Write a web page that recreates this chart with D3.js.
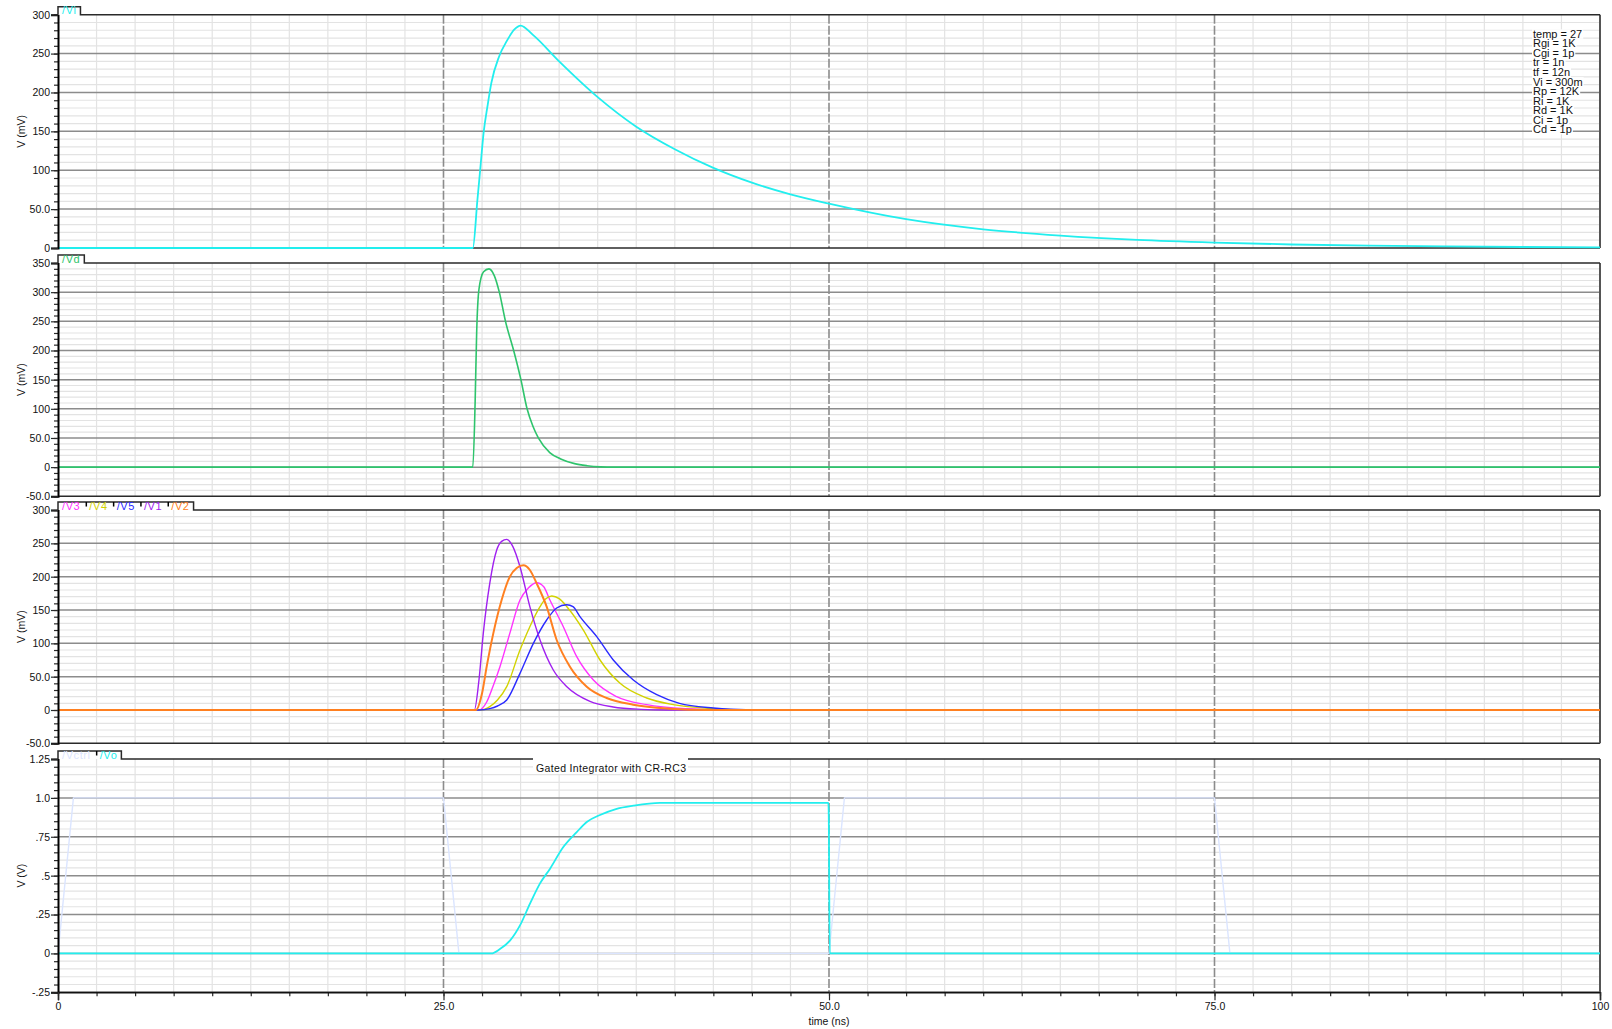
<!DOCTYPE html>
<html><head><meta charset="utf-8">
<script src="https://cdn.jsdelivr.net/npm/d3@7"></script>
<style>
body{margin:0;background:#fff}
svg{display:block}
text{font-family:"Liberation Sans",Arial,sans-serif}
</style>
</head><body>
<svg id="chart" width="1612" height="1029"></svg>
<script>
// ---------- data ----------
const timeTicks = [0, 25, 50, 75, 100];
const timeTickLabels = ["0", "25.0", "50.0", "75.0", "100"];

const p1Ticks = [0, 50, 100, 150, 200, 250, 300];
const p1TickLabels = ["0", "50.0", "100", "150", "200", "250", "300"];
const p2Ticks = [-50, 0, 50, 100, 150, 200, 250, 300, 350];
const p2TickLabels = ["-50.0", "0", "50.0", "100", "150", "200", "250", "300", "350"];
const p3Ticks = [-50, 0, 50, 100, 150, 200, 250, 300];
const p3TickLabels = ["-50.0", "0", "50.0", "100", "150", "200", "250", "300"];
const p4Ticks = [-0.25, 0, 0.25, 0.5, 0.75, 1.0, 1.25];
const p4TickLabels = ["-.25", "0", ".25", ".5", ".75", "1.0", "1.25"];

// Panel 1: /Vi (mV)
const viTime = [0, 26.9, 27.2, 27.4, 27.6, 27.85, 28.1, 28.6, 29.1, 29.6, 30, 30.8, 32.5, 35, 37.5, 40, 42.5, 45, 47.5, 50, 55, 60, 65, 70, 75, 80, 85, 90, 95, 100];
const viValues = [0, 0, 62, 105, 148, 182, 212, 246, 266, 281, 286, 274, 240, 194, 156, 127, 103, 84, 69, 57, 37, 24, 16, 10.5, 7, 4.5, 3, 2, 1.3, 0.9];

// Panel 2: /Vd (mV)
const vdTime = [0, 26.9, 27.05, 27.15, 27.3, 27.6, 27.95, 28.3, 28.62, 29.02, 29.55, 30.02, 30.42, 30.8, 31.15, 31.89, 32.6, 33.5, 34.3, 35.2, 36, 100];
const vdValues = [0, 0, 110, 230, 305, 335, 340, 328, 300, 250, 200, 150, 100, 70, 50, 25, 14, 6, 2.5, 0.5, 0, 0];

// Panel 3: /V3 /V4 /V5 /V1 /V2 (mV)
const v3Time = [0, 27.3, 27.8, 28.2, 28.66, 29.3, 29.96, 30.5, 31.04, 31.5, 31.9, 32.77, 33.64, 34.72, 36.23, 38.18, 40.8, 44, 100];
const v3Values = [0, 0, 12, 35, 65, 115, 165, 183, 191, 185, 165, 125, 80, 45, 20, 8, 2, 0, 0];
const v4Time = [0, 27.4, 28.0, 28.5, 29.1, 29.96, 30.6, 31.26, 31.6, 32.02, 32.5, 33, 34.07, 35.15, 36.45, 38.18, 39.9, 42.5, 45, 100];
const v4Values = [0, 0, 5, 15, 35, 90, 125, 155, 166, 171, 167, 155, 120, 75, 40, 18, 8, 2, 0, 0];
const v5Time = [0, 27.3, 28.0, 28.5, 29.1, 29.96, 30.83, 31.69, 32.34, 32.99, 33.4, 33.85, 34.94, 36.01, 37.31, 38.83, 40.3, 42.5, 44.6, 100];
const v5Values = [0, 0, 2, 6, 15, 55, 100, 135, 153, 158, 155, 140, 110, 75, 45, 23, 10, 3, 0.5, 0];
const v1Time = [0, 27.0, 27.3, 27.58, 28.0, 28.45, 28.77, 29.1, 29.5, 29.96, 30.6, 31.26, 32.12, 33, 34.5, 36, 37.8, 39.5, 100];
const v1Values = [0, 0, 45, 115, 190, 240, 253, 256, 245, 215, 155, 105, 60, 35, 13, 4.5, 1, 0, 0];
const v2Time = [0, 27.1, 27.5, 27.8, 28.23, 28.77, 29.3, 29.75, 30.18, 30.6, 31.04, 31.69, 32.34, 33.2, 34.29, 35.58, 37.3, 39.7, 42, 100];
const v2Values = [0, 0, 25, 65, 115, 165, 200, 213, 217, 210, 190, 155, 105, 65, 35, 18, 8, 2, 0, 0];

// Panel 4: /Vctrl /Vo (V)
const vctrlTime = [0, 1, 25, 26, 50, 51, 75, 76, 100];
const vctrlValues = [0, 1, 1, 0, 0, 1, 1, 0, 0];
const voTime = [0, 28.1, 28.66, 29.31, 29.96, 30.61, 31.26, 31.91, 32.77, 33.64, 34.29, 35.15, 36.23, 37.31, 39.04, 49.96, 49.98, 50.05, 100];
const voValues = [0, 0, 0.028, 0.082, 0.18, 0.32, 0.45, 0.545, 0.684, 0.78, 0.845, 0.89, 0.93, 0.95, 0.968, 0.968, 0.92, 0, 0];

const paramLines = ["temp = 27", "Rgi = 1K", "Cgi = 1p", "tr = 1n", "tf = 12n", "Vi = 300m", "Rp = 12K", "Ri = 1K", "Rd = 1K", "Ci = 1p", "Cd = 1p"];
const chartTitle = "Gated Integrator with CR-RC3";

// ---------- layout ----------
const svg = d3.select("#chart");
const X0 = 58, X1 = 1600, PH = 233.3;
const x = d3.scaleLinear().domain([0, 100]).range([X0, X1]);

const C = {
  cyan: "#22eeee", green: "#2ec46c", magenta: "#ff33ff", yellow: "#d2d200",
  blue: "#2a2aff", purple: "#a020f0", orange: "#ff8020", ctrl: "#dbe5ff",
  major: "#8c8c8c", minor: "#e3e3e3", frame: "#2a2a2a"
};

const panels = [
  { top: 14.7, domain: [0, 300], ticks: p1Ticks, labels: p1TickLabels, minor: 10, ylabel: "V (mV)",
    series: [{ name: "/Vi", t: viTime, v: viValues, color: C.cyan, w: 1.8, smooth: true }] },
  { top: 263, domain: [-50, 350], ticks: p2Ticks, labels: p2TickLabels, minor: 10, ylabel: "V (mV)",
    series: [{ name: "/Vd", t: vdTime, v: vdValues, color: C.green, w: 1.6, smooth: true }] },
  { top: 510.03, domain: [-50, 300], ticks: p3Ticks, labels: p3TickLabels, minor: 10, ylabel: "V (mV)",
    series: [
      { name: "/V3", t: v3Time, v: v3Values, color: C.magenta, w: 1.4, smooth: true },
      { name: "/V4", t: v4Time, v: v4Values, color: C.yellow, w: 1.4, smooth: true },
      { name: "/V5", t: v5Time, v: v5Values, color: C.blue, w: 1.4, smooth: true },
      { name: "/V1", t: v1Time, v: v1Values, color: C.purple, w: 1.4, smooth: true },
      { name: "/V2", t: v2Time, v: v2Values, color: C.orange, w: 2, smooth: true }] },
  { top: 759, domain: [-0.25, 1.25], ticks: p4Ticks, labels: p4TickLabels, minor: 0.05, ylabel: "V (V)",
    series: [
      { name: "/Vctrl", t: vctrlTime, v: vctrlValues, color: C.ctrl, w: 1.4, smooth: false },
      { name: "/Vo", t: voTime, v: voValues, color: C.cyan, w: 1.8, smooth: true }] }
];

const minorT = d3.range(0, 100.001, 2.5);

panels.forEach((p, pi) => {
  const y = d3.scaleLinear().domain(p.domain).range([p.top + PH, p.top]);
  const g = svg.append("g");
  const bottom = p.top + PH;

  // minor vertical grid
  g.selectAll(".mv").data(minorT.filter(t => t % 25 !== 0)).join("line")
    .attr("x1", d => x(d)).attr("x2", d => x(d)).attr("y1", p.top).attr("y2", bottom)
    .attr("stroke", C.minor).attr("stroke-width", 1.2);
  // minor horizontal grid
  const n = Math.round((p.domain[1] - p.domain[0]) / p.minor);
  const minorV = d3.range(0, n + 1).map(i => p.domain[0] + i * p.minor)
    .filter(v => !p.ticks.some(t => Math.abs(t - v) < 1e-6));
  g.selectAll(".mh").data(minorV).join("line")
    .attr("x1", X0).attr("x2", X1).attr("y1", d => y(d)).attr("y2", d => y(d))
    .attr("stroke", C.minor).attr("stroke-width", 1.2);
  // major horizontal grid
  g.selectAll(".Mh").data(p.ticks.slice(1, -1)).join("line")
    .attr("x1", X0).attr("x2", X1).attr("y1", d => y(d)).attr("y2", d => y(d))
    .attr("stroke", C.major).attr("stroke-width", 1.5);
  // major vertical dashed
  g.selectAll(".Mv").data([25, 50, 75]).join("line")
    .attr("x1", d => x(d)).attr("x2", d => x(d)).attr("y1", p.top).attr("y2", bottom)
    .attr("stroke", C.major).attr("stroke-width", 1.6).attr("stroke-dasharray", "9,2");

  // frame: bottom + right
  g.append("line").attr("x1", X0).attr("x2", X1).attr("y1", bottom).attr("y2", bottom)
    .attr("stroke", C.frame).attr("stroke-width", 1.5);
  g.append("line").attr("x1", X1).attr("x2", X1).attr("y1", p.top).attr("y2", bottom)
    .attr("stroke", "#555").attr("stroke-width", 2);

  // curves
  p.series.forEach(s => {
    const line = d3.line().x(d => x(d[0])).y(d => y(d[1]))
      .curve(s.smooth ? d3.curveMonotoneX : d3.curveLinear);
    g.append("path").datum(s.t.map((t, i) => [t, s.v[i]]))
      .attr("d", line).attr("fill", "none").attr("stroke", s.color)
      .attr("stroke-width", s.w).attr("stroke-linejoin", "round");
  });

  // left axis: minor ticks then major ticks w/ labels
  const minorAll = d3.range(0, n + 1).map(i => p.domain[0] + i * p.minor);
  const ax2 = g.append("g").attr("transform", `translate(${X0},0)`)
    .call(d3.axisLeft(y).tickValues(minorAll).tickSize(4).tickFormat(""));
  ax2.select(".domain").remove();
  ax2.selectAll("line").attr("stroke", C.frame).attr("stroke-width", 1.2);
  const ax = g.append("g").attr("transform", `translate(${X0},0)`)
    .call(d3.axisLeft(y).tickValues(p.ticks).tickSize(7).tickPadding(1)
      .tickFormat((d, i) => p.labels[i]));
  ax.select(".domain").attr("stroke", "#000").attr("stroke-width", 2);
  ax.selectAll("line").attr("stroke", C.frame).attr("stroke-width", 1.2);
  ax.selectAll("text").attr("font-size", "10.5px").attr("fill", "#111")
    .attr("font-family", "'Liberation Sans',Arial,sans-serif");

  // y label
  g.append("text").attr("transform", `translate(25,${p.top + PH / 2}) rotate(-90)`)
    .attr("text-anchor", "middle").attr("font-size", "10.5px").attr("fill", "#111").text(p.ylabel);

  // legend tab
  const lg = g.append("g");
  let cx = X0 + 4;
  const bars = [];
  p.series.forEach((s, i) => {
    if (i > 0) { bars.push(cx); cx += 3; }
    const t = lg.append("text").attr("x", cx).attr("y", p.top - 0.3)
      .attr("font-size", "11px").attr("letter-spacing", "0.6px").attr("fill", s.color).text(s.name);
    const w = t.node().getComputedTextLength();
    cx += w + 6;
  });
  const tabR = cx - 2;
  lg.insert("path", ":first-child")
    .attr("d", `M${X0},${p.top} L${X0},${p.top - 8} L${tabR},${p.top - 8} L${tabR},${p.top} L${X1},${p.top}`)
    .attr("fill", "#fff").attr("stroke", C.frame).attr("stroke-width", 1.5);
  bars.forEach(b => {
    lg.append("line").attr("x1", b).attr("x2", b)
      .attr("y1", p.top - 8).attr("y2", p.top - 3.5).attr("stroke", "#000").attr("stroke-width", 1.5);
  });

  if (pi === 3) {
    // bottom x-axis
    const xa2 = g.append("g").attr("transform", `translate(0,${bottom})`)
      .call(d3.axisBottom(x).tickValues(minorT).tickSize(4).tickFormat(""));
    xa2.select(".domain").remove();
    xa2.selectAll("line").attr("stroke", C.frame).attr("stroke-width", 1.2);
    const xa = g.append("g").attr("transform", `translate(0,${bottom})`)
      .call(d3.axisBottom(x).tickValues(timeTicks).tickSize(8).tickPadding(2)
        .tickFormat((d, i) => timeTickLabels[i]));
    xa.select(".domain").attr("stroke", "#111").attr("stroke-width", 1.5);
    xa.selectAll("line").attr("stroke", C.frame).attr("stroke-width", 1.2);
    xa.selectAll("text").attr("font-size", "10.5px").attr("fill", "#111")
      .attr("font-family", "'Liberation Sans',Arial,sans-serif");
    g.append("text").attr("x", x(50)).attr("y", 1025).attr("text-anchor", "middle")
      .attr("font-size", "10.5px").attr("fill", "#111").text("time (ns)");

    // title with white background
    g.append("rect").attr("x", 533).attr("y", 752).attr("width", 155).attr("height", 22).attr("fill", "#fff");
    g.append("text").attr("x", 611).attr("y", 771.5).attr("text-anchor", "middle")
      .attr("font-size", "10.5px").attr("fill", "#111").attr("textLength", 150)
      .attr("lengthAdjust", "spacing").text(chartTitle);
  }
});

// parameter block, top-right
const pg = svg.append("g");
paramLines.forEach((s, i) => {
  const yy = 34 + i * 9.55;
  const t = pg.append("text").attr("x", 1533).attr("y", yy + 3.8)
    .attr("font-size", "11px").attr("fill", "#111").text(s);
  const w = t.node().getComputedTextLength();
  pg.insert("rect", ":first-child").attr("x", 1532).attr("y", yy - 4.6).attr("width", w + 2)
    .attr("height", 9.4).attr("fill", "#fff");
});
</script>
</body></html>
